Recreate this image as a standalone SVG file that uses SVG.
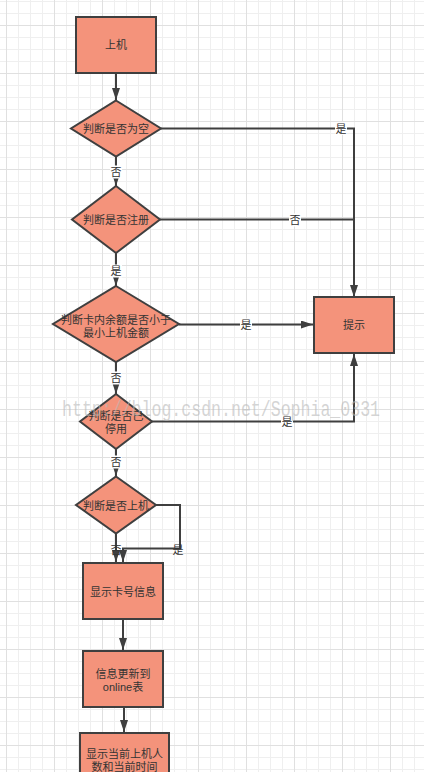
<svg xmlns="http://www.w3.org/2000/svg" width="424" height="772" viewBox="0 0 424 772">
<style>
.node{fill:#F4937B;stroke:#3f3f3f;stroke-width:2}
.t{font-family:"Liberation Sans","Noto Sans CJK SC",sans-serif;font-size:11px;fill:#333;text-anchor:middle;dominant-baseline:central}
.c{fill:none;stroke:#3f3f3f;stroke-width:2}
.lb{fill:#fff}
.wm{font-family:"Liberation Mono",monospace;font-size:22px;fill:#b8b8b8;fill-opacity:0.6}
</style>
<defs>
<pattern id="gmin" x="6" y="1" width="12" height="12" patternUnits="userSpaceOnUse">
<path d="M0,0.5H12M0.5,0V12" stroke="#efefef" stroke-width="1" fill="none"/>
</pattern>
<pattern id="gmaj" x="6" y="25" width="48" height="48" patternUnits="userSpaceOnUse">
<path d="M0,0.5H48M0.5,0V48" stroke="#e0e0e0" stroke-width="1" fill="none"/>
</pattern>
<marker id="ah" markerUnits="userSpaceOnUse" markerWidth="12" markerHeight="8" refX="12" refY="4" orient="auto">
<path d="M0,0L12,4L0,8z" fill="#3f3f3f"/>
</marker>
</defs>
<rect width="424" height="772" fill="#fff"/>
<rect width="424" height="772" fill="url(#gmin)"/>
<rect width="424" height="772" fill="url(#gmaj)"/>

<g id="connectors">
<path class="c" d="M116,73V100" marker-end="url(#ah)"/>
<path class="c" d="M161,128.5H354V297" marker-end="url(#ah)"/>
<path class="c" d="M116,156.5V186" marker-end="url(#ah)"/>
<path class="c" d="M160,219.5H354"/>
<path class="c" d="M116,253V286" marker-end="url(#ah)"/>
<path class="c" d="M179,324.5H313" marker-end="url(#ah)"/>
<path class="c" d="M116,362V394" marker-end="url(#ah)"/>
<path class="c" d="M152,421.5H354V354" marker-end="url(#ah)"/>
<path class="c" d="M116,449V476" marker-end="url(#ah)"/>
<path class="c" d="M156,505H180V548.5H123V562" marker-end="url(#ah)"/>
<path class="c" d="M116,533.5V562" marker-end="url(#ah)"/>
<path class="c" d="M123,619V650" marker-end="url(#ah)"/>
<path class="c" d="M124,707V732" marker-end="url(#ah)"/>
<g id="labels">
<rect class="lb" x="335" y="122" width="12" height="13"/><text class="t" x="341" y="129">是</text>
<rect class="lb" x="110" y="165.5" width="12" height="13"/><text class="t" x="116" y="172">否</text>
<rect class="lb" x="289" y="213.5" width="12" height="13"/><text class="t" x="295" y="220">否</text>
<rect class="lb" x="110" y="264.5" width="12" height="13"/><text class="t" x="116" y="271">是</text>
<rect class="lb" x="240" y="318.5" width="12" height="13"/><text class="t" x="246" y="325">是</text>
<rect class="lb" x="110" y="371.5" width="12" height="13"/><text class="t" x="116" y="378">否</text>
<rect class="lb" x="281" y="415.5" width="12" height="13"/><text class="t" x="287" y="422">是</text>
<rect class="lb" x="110" y="455.5" width="12" height="13"/><text class="t" x="116" y="462">否</text>
<text class="t" x="178" y="550">是</text>
<text class="t" x="116" y="550">否</text>
</g>
</g>

<g id="n_shangji"><rect class="node" x="76" y="17" width="80" height="56"/><text class="t" x="116" y="45">上机</text></g>
<g id="d_kong"><polygon class="node" points="116,100.5 161,128.5 116,156.5 71,128.5"/><text class="t" x="116" y="129">判断是否为空</text></g>
<g id="d_zhuce"><polygon class="node" points="116,186 160,219.5 116,253 72,219.5"/><text class="t" x="116" y="220">判断是否注册</text></g>
<g id="d_yue"><polygon class="node" points="116,286 179,324 116,362 53,324"/><text class="t" x="116" y="320">判断卡内余额是否小于</text><text class="t" x="116" y="333">最小上机金额</text></g>
<g id="d_tingyong"><polygon class="node" points="116,394 152,421.5 116,449 80,421.5"/><text class="t" x="116" y="416">判断是否已</text><text class="t" x="116" y="428.5">停用</text></g>
<g id="d_shangji"><polygon class="node" points="116,476.5 156,505 116,533.5 76,505"/><text class="t" x="116" y="505.5">判断是否上机</text></g>
<g id="n_tishi"><rect class="node" x="314" y="297" width="80" height="56"/><text class="t" x="354" y="325">提示</text></g>
<g id="n_kahao"><rect class="node" x="83" y="563" width="80" height="56"/><text class="t" x="123" y="591.5">显示卡号信息</text></g>
<g id="n_online"><rect class="node" x="83" y="651" width="80" height="56"/><text class="t" x="123" y="673.5">信息更新到</text><text class="t" x="123" y="686.5">online表</text></g>
<g id="n_xianshi"><rect class="node" x="80" y="733" width="89" height="56"/><text class="t" x="124.5" y="754">显示当前上机人</text><text class="t" x="124.5" y="767">数和当前时间</text></g>

<text class="wm" x="62" y="416" textLength="318" lengthAdjust="spacingAndGlyphs">http://blog.csdn.net/Sophia_0331</text>
</svg>
